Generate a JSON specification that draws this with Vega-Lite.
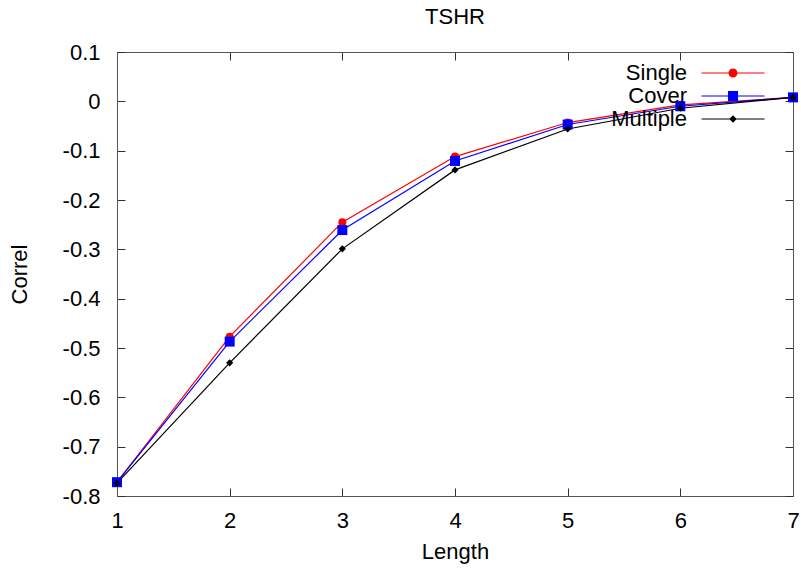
{
  "$schema": "https://vega.github.io/schema/vega-lite/v6.json",
  "width": 676,
  "height": 444,
  "autosize": {"type": "none"},
  "padding": {"left": 117, "top": 52, "right": 8, "bottom": 75},
  "background": "white",
  "title": {"text": "TSHR", "fontSize": 22, "fontWeight": "normal", "font": "Liberation Sans", "color": "black", "anchor": "middle", "offset": 12},
  "config": {
    "font": "Liberation Sans",
    "view": {"stroke": null},
    "axis": {"grid": false, "domainColor": "#555555", "tickColor": "#333333", "labelColor": "black", "titleColor": "black", "labelFontSize": 22, "titleFontSize": 22, "titleFontWeight": "normal", "labelFont": "Liberation Sans", "titleFont": "Liberation Sans", "labelFlush": false, "labelOverlap": false}
  },
  "data": {"values": [
    {"series": "Single", "length": 1, "correl": -0.772},
    {"series": "Single", "length": 2, "correl": -0.477},
    {"series": "Single", "length": 3, "correl": -0.245},
    {"series": "Single", "length": 4, "correl": -0.112},
    {"series": "Single", "length": 5, "correl": -0.043},
    {"series": "Single", "length": 6, "correl": -0.007},
    {"series": "Single", "length": 7, "correl": 0.008},
    {"series": "Cover", "length": 1, "correl": -0.772},
    {"series": "Cover", "length": 2, "correl": -0.487},
    {"series": "Cover", "length": 3, "correl": -0.261},
    {"series": "Cover", "length": 4, "correl": -0.121},
    {"series": "Cover", "length": 5, "correl": -0.047},
    {"series": "Cover", "length": 6, "correl": -0.010},
    {"series": "Cover", "length": 7, "correl": 0.008},
    {"series": "Multiple", "length": 1, "correl": -0.774},
    {"series": "Multiple", "length": 2, "correl": -0.530},
    {"series": "Multiple", "length": 3, "correl": -0.299},
    {"series": "Multiple", "length": 4, "correl": -0.139},
    {"series": "Multiple", "length": 5, "correl": -0.056},
    {"series": "Multiple", "length": 6, "correl": -0.014},
    {"series": "Multiple", "length": 7, "correl": 0.008}
  ]},
  "resolve": {"axis": {"x": "independent", "y": "independent"}},
  "layer": [
    {
      "mark": {"type": "line", "strokeWidth": 1.2},
      "encoding": {
        "x": {"field": "length", "type": "quantitative", "scale": {"domain": [1, 7], "nice": false, "zero": false},
              "axis": {"orient": "bottom", "title": "Length", "values": [1, 2, 3, 4, 5, 6, 7], "format": "d", "tickSize": -8, "labelPadding": 22, "titlePadding": 10}},
        "y": {"field": "correl", "type": "quantitative", "scale": {"domain": [-0.8, 0.1], "nice": false, "zero": false},
              "axis": {"orient": "left", "title": "Correl", "values": [-0.8, -0.7, -0.6, -0.5, -0.4, -0.3, -0.2, -0.1, 0, 0.1], "tickSize": -8, "labelPadding": 25, "titlePadding": 31,
                       "labelExpr": "datum.value < -0.00001 ? '-' + format(-datum.value, '.1~f') : format(datum.value, '.1~f')"}},
        "color": {"field": "series", "type": "nominal",
                  "scale": {"domain": ["Single", "Cover", "Multiple"], "range": ["#ff0000", "#0000ff", "#000000"]},
                  "legend": {"orient": "none", "legendX": 605, "legendY": 10, "title": null, "padding": 0,
                             "labelFontSize": 22, "labelFont": "Liberation Sans", "labelColor": "black", "labelAlign": "right", "labelOffset": -57,
                             "symbolSize": 100, "rowPadding": 1,
                             "encode": {"symbols": {"update": {
                               "shape": {"signal": "datum.value === 'Single' ? 'M-6.3,-0.12H6.3V0.12H-6.3ZM0.9,0A0.9,0.9,0,1,1,-0.9,0A0.9,0.9,0,1,1,0.9,0Z' : datum.value === 'Cover' ? 'M-6.3,-0.12H6.3V0.12H-6.3ZM-1,-1H1V1H-1Z' : 'M-6.3,-0.12H6.3V0.12H-6.3ZM0,-0.75L0.75,0L0,0.75L-0.75,0Z'"},
                               "fill": {"signal": "datum.value === 'Single' ? '#ff0000' : datum.value === 'Cover' ? '#0000ff' : '#000000'"},
                               "fillOpacity": {"value": 1},
                               "strokeWidth": {"value": 0},
                               "opacity": {"value": 1}
                             }}}}},
        "order": {"field": "length"}
      }
    },
    {
      "transform": [{"filter": "datum.series === 'Single'"}],
      "mark": {"type": "point", "filled": true, "opacity": 1, "shape": "circle", "size": 64, "color": "#ff0000"},
      "encoding": {
        "x": {"field": "length", "type": "quantitative",
              "axis": {"orient": "top", "title": null, "labels": false, "values": [1, 2, 3, 4, 5, 6, 7], "tickSize": -8}},
        "y": {"field": "correl", "type": "quantitative",
              "axis": {"orient": "right", "title": null, "labels": false, "values": [-0.8, -0.7, -0.6, -0.5, -0.4, -0.3, -0.2, -0.1, 0, 0.1], "tickSize": -8}}
      }
    },
    {
      "transform": [{"filter": "datum.series === 'Cover'"}],
      "mark": {"type": "point", "filled": true, "opacity": 1, "shape": "square", "size": 100, "color": "#0000ff"},
      "encoding": {
        "x": {"field": "length", "type": "quantitative", "axis": null},
        "y": {"field": "correl", "type": "quantitative", "axis": null}
      }
    },
    {
      "transform": [{"filter": "datum.series === 'Multiple'"}],
      "mark": {"type": "point", "filled": true, "opacity": 1, "shape": "diamond", "size": 52, "color": "#000000"},
      "encoding": {
        "x": {"field": "length", "type": "quantitative", "axis": null},
        "y": {"field": "correl", "type": "quantitative", "axis": null}
      }
    }
  ]
}
